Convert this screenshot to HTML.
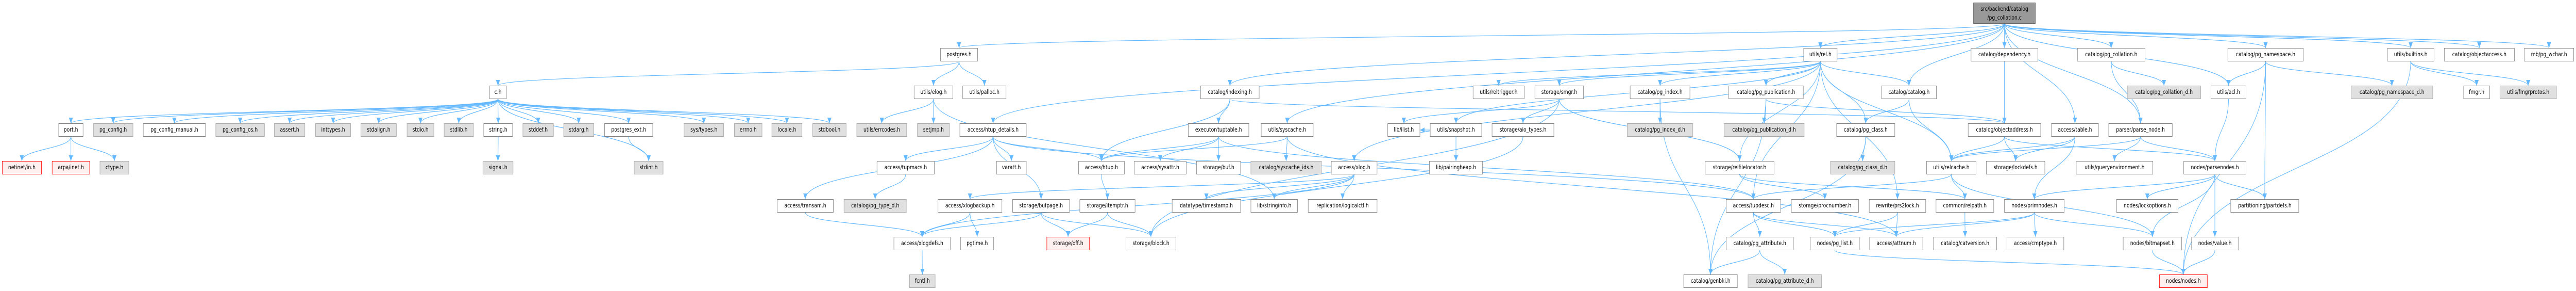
<!DOCTYPE html>
<html><head><meta charset="utf-8">
<style>
html,body{margin:0;padding:0;background:#fff;width:100%;height:100%;overflow:hidden;}
#w{width:6249px;height:564px;position:absolute;left:0;top:0;overflow:hidden;transform-origin:0 0;}
.n{position:absolute;box-sizing:border-box;height:26px;border:1.5px solid #808080;background:#fff;overflow:hidden;
font-family:"DejaVu Sans","Liberation Sans",sans-serif;font-size:11.5px;line-height:23px;text-align:center;color:#000;white-space:nowrap;z-index:2;}
.g{background:#e0e0e0;border-color:#a8a8a8;}
.r{background:#fff0f0;border-color:#ff0000;}
.A{top:93px}.B{top:166px}.C{top:239px}.D{top:312px}.E{top:386px}.F{top:459px}.G{top:532px}
svg{position:absolute;left:0;top:0;z-index:1;}
</style></head><body><div id="w">
<svg id="s" width="6249" height="564" xmlns="http://www.w3.org/2000/svg">
<defs><marker id="m" markerWidth="12" markerHeight="10" refX="11" refY="5" orient="auto" markerUnits="userSpaceOnUse"><path d="M0,0 L11,5 L0,10 z" fill="#63b8ff"/></marker></defs>
<g id="eg" fill="none" stroke="#63b8ff" stroke-width="1.2"></g>
</svg>

<div class="n" id="top" style="left:4787px;top:5px;width:151px;height:41px;line-height:17px;padding-top:3px;background:#999;border-color:#666">src/backend/catalog<br>/pg_collation.c</div>

<div class="n A" id="postgres" style="left:2281px;width:91px">postgres.h</div>
<div class="n A" id="rel" style="left:4375px;width:82px">utils/rel.h</div>
<div class="n A" id="dependency" style="left:4781px;width:163px">catalog/dependency.h</div>
<div class="n A" id="pgcoll" style="left:5039px;width:165px">catalog/pg_collation.h</div>
<div class="n A" id="pgns" style="left:5404px;width:184px">catalog/pg_namespace.h</div>
<div class="n A" id="builtins" style="left:5791px;width:114px">utils/builtins.h</div>
<div class="n A" id="objaccess" style="left:5929px;width:171px">catalog/objectaccess.h</div>
<div class="n A" id="wchar" style="left:6123px;width:121px">mb/pg_wchar.h</div>

<div class="n B" id="ch" style="left:1187px;width:42px">c.h</div>
<div class="n B" id="elog" style="left:2217px;width:95px">utils/elog.h</div>
<div class="n B" id="palloc" style="left:2335px;width:106px">utils/palloc.h</div>
<div class="n B" id="indexing" style="left:2912px;width:143px">catalog/indexing.h</div>
<div class="n B" id="reltrigger" style="left:3573px;width:125px">utils/reltrigger.h</div>
<div class="n B" id="smgr" style="left:3723px;width:119px">storage/smgr.h</div>
<div class="n B" id="pgindex" style="left:3954px;width:146px">catalog/pg_index.h</div>
<div class="n B" id="pgpub" style="left:4193px;width:182px">catalog/pg_publication.h</div>
<div class="n B" id="catalog" style="left:4564px;width:134px">catalog/catalog.h</div>
<div class="n B g" id="pgcolld" style="left:5160px;width:179px">catalog/pg_collation_d.h</div>
<div class="n B" id="acl" style="left:5363px;width:86px">utils/acl.h</div>
<div class="n B g" id="pgnsd" style="left:5703px;width:199px">catalog/pg_namespace_d.h</div>
<div class="n B" id="fmgr" style="left:5976px;width:64px">fmgr.h</div>
<div class="n B g" id="fmgrprotos" style="left:6064px;width:138px">utils/fmgrprotos.h</div>

<div class="n C" id="port" style="left:142px;width:60px">port.h</div>
<div class="n C g" id="pgconfig" style="left:226px;width:97px">pg_config.h</div>
<div class="n C" id="pgcm" style="left:347px;width:152px">pg_config_manual.h</div>
<div class="n C g" id="pgcos" style="left:523px;width:119px">pg_config_os.h</div>
<div class="n C g" id="assert" style="left:665px;width:75px">assert.h</div>
<div class="n C g" id="inttypes" style="left:765px;width:86px">inttypes.h</div>
<div class="n C g" id="stdalign" style="left:875px;width:87px">stdalign.h</div>
<div class="n C g" id="stdio" style="left:987px;width:66px">stdio.h</div>
<div class="n C g" id="stdlib" style="left:1077px;width:72px">stdlib.h</div>
<div class="n C" id="string" style="left:1173px;width:71px">string.h</div>
<div class="n C g" id="stddef" style="left:1268px;width:75px">stddef.h</div>
<div class="n C g" id="stdarg" style="left:1367px;width:74px">stdarg.h</div>
<div class="n C" id="pgext" style="left:1466px;width:118px">postgres_ext.h</div>
<div class="n C g" id="systypes" style="left:1659px;width:97px">sys/types.h</div>
<div class="n C g" id="errno" style="left:1781px;width:68px">errno.h</div>
<div class="n C g" id="locale" style="left:1872px;width:74px">locale.h</div>
<div class="n C g" id="stdbool" style="left:1971px;width:82px">stdbool.h</div>
<div class="n C g" id="errcodes" style="left:2078px;width:122px">utils/errcodes.h</div>
<div class="n C g" id="setjmp" style="left:2225px;width:79px">setjmp.h</div>
<div class="n C" id="htupd" style="left:2328px;width:162px">access/htup_details.h</div>
<div class="n C" id="tuptable" style="left:2882px;width:148px">executor/tuptable.h</div>
<div class="n C" id="syscache" style="left:3059px;width:127px">utils/syscache.h</div>
<div class="n C" id="ilist" style="left:3366px;width:79px">lib/ilist.h</div>
<div class="n C" id="snapshot" style="left:3469px;width:126px">utils/snapshot.h</div>
<div class="n C" id="aio" style="left:3619px;width:151px">storage/aio_types.h</div>
<div class="n C g" id="pgindexd" style="left:3947px;width:160px">catalog/pg_index_d.h</div>
<div class="n C g" id="pgpubd" style="left:4182px;width:195px">catalog/pg_publication_d.h</div>
<div class="n C" id="pgclass" style="left:4455px;width:142px">catalog/pg_class.h</div>
<div class="n C" id="objaddr" style="left:4774px;width:177px">catalog/objectaddress.h</div>
<div class="n C" id="table" style="left:4976px;width:115px">access/table.h</div>
<div class="n C" id="parsenode" style="left:5115px;width:155px">parser/parse_node.h</div>

<div class="n D r" id="netinet" style="left:5px;width:96px">netinet/in.h</div>
<div class="n D r" id="arpa" style="left:126px;width:92px">arpa/inet.h</div>
<div class="n D g" id="ctype" style="left:242px;width:71px">ctype.h</div>
<div class="n D g" id="signal" style="left:1171px;width:74px">signal.h</div>
<div class="n D g" id="stdint" style="left:1538px;width:71px">stdint.h</div>
<div class="n D" id="tupmacs" style="left:2127px;width:140px">access/tupmacs.h</div>
<div class="n D" id="varatt" style="left:2417px;width:73px">varatt.h</div>
<div class="n D" id="htup" style="left:2616px;width:112px">access/htup.h</div>
<div class="n D" id="sysattr" style="left:2751px;width:127px">access/sysattr.h</div>
<div class="n D" id="buf" style="left:2902px;width:108px">storage/buf.h</div>
<div class="n D g" id="syscacheids" style="left:3034px;width:172px">catalog/syscache_ids.h</div>
<div class="n D" id="xlog" style="left:3229px;width:112px">access/xlog.h</div>
<div class="n D" id="pairingheap" style="left:3467px;width:130px">lib/pairingheap.h</div>
<div class="n D" id="rfl" style="left:4136px;width:168px">storage/relfilelocator.h</div>
<div class="n D g" id="pgclassd" style="left:4440px;width:157px">catalog/pg_class_d.h</div>
<div class="n D" id="relcache" style="left:4673px;width:121px">utils/relcache.h</div>
<div class="n D" id="lockdefs" style="left:4818px;width:143px">storage/lockdefs.h</div>
<div class="n D" id="queryenv" style="left:5036px;width:187px">utils/queryenvironment.h</div>
<div class="n D" id="parsenodes" style="left:5297px;width:152px">nodes/parsenodes.h</div>

<div class="n E" id="transam" style="left:1885px;width:137px">access/transam.h</div>
<div class="n E g" id="pgtyped" style="left:2047px;width:152px">catalog/pg_type_d.h</div>
<div class="n E" id="xlogbackup" style="left:2275px;width:156px">access/xlogbackup.h</div>
<div class="n E" id="bufpage" style="left:2456px;width:139px">storage/bufpage.h</div>
<div class="n E" id="itemptr" style="left:2619px;width:135px">storage/itemptr.h</div>
<div class="n E" id="timestamp" style="left:2843px;width:167px">datatype/timestamp.h</div>
<div class="n E" id="stringinfo" style="left:3034px;width:114px">lib/stringinfo.h</div>
<div class="n E" id="logicalctl" style="left:3173px;width:168px">replication/logicalctl.h</div>
<div class="n E" id="tupdesc" style="left:4187px;width:133px">access/tupdesc.h</div>
<div class="n E" id="procnumber" style="left:4345px;width:164px">storage/procnumber.h</div>
<div class="n E" id="prs2lock" style="left:4534px;width:138px">rewrite/prs2lock.h</div>
<div class="n E" id="relpath" style="left:4696px;width:141px">common/relpath.h</div>
<div class="n E" id="primnodes" style="left:4862px;width:146px">nodes/primnodes.h</div>
<div class="n E" id="lockoptions" style="left:5134px;width:150px">nodes/lockoptions.h</div>
<div class="n E" id="partdefs" style="left:5411px;width:166px">partitioning/partdefs.h</div>

<div class="n F" id="xlogdefs" style="left:2168px;width:138px">access/xlogdefs.h</div>
<div class="n F" id="pgtime" style="left:2330px;width:81px">pgtime.h</div>
<div class="n F r" id="off" style="left:2539px;width:104px">storage/off.h</div>
<div class="n F" id="block" style="left:2731px;width:122px">storage/block.h</div>
<div class="n F" id="pgattr" style="left:4187px;width:164px">catalog/pg_attribute.h</div>
<div class="n F" id="pglist" style="left:4391px;width:120px">nodes/pg_list.h</div>
<div class="n F" id="attnum" style="left:4535px;width:130px">access/attnum.h</div>
<div class="n F" id="catversion" style="left:4690px;width:154px">catalog/catversion.h</div>
<div class="n F" id="cmptype" style="left:4868px;width:139px">access/cmptype.h</div>
<div class="n F" id="bitmapset" style="left:5150px;width:143px">nodes/bitmapset.h</div>
<div class="n F" id="value" style="left:5316px;width:114px">nodes/value.h</div>

<div class="n G g" id="fcntl" style="left:2206px;width:63px">fcntl.h</div>
<div class="n G" id="genbki" style="left:4084px;width:131px">catalog/genbki.h</div>
<div class="n G g" id="pgattrd" style="left:4240px;width:179px">catalog/pg_attribute_d.h</div>
<div class="n G r" id="nodes" style="left:5238px;width:117px">nodes/nodes.h</div>
</div>
<script>
var E={
top:"rel dependency pgcoll pgns builtins objaccess wchar postgres indexing catalog table syscache htupd acl parsenode",
postgres:"ch elog palloc",
ch:"port pgconfig pgcm pgcos assert inttypes stdalign stdio stdlib string stddef stdarg pgext systypes errno locale stdbool stdint",
port:"netinet arpa ctype",string:"signal",pgext:"stdint",
elog:"errcodes setjmp stringinfo",
htupd:"tupmacs varatt htup bufpage tupdesc transam",
tupmacs:"pgtyped",transam:"xlogdefs",htup:"itemptr",
indexing:"tuptable htup objaddr",
tuptable:"htup sysattr buf tupdesc",
syscache:"syscacheids htup attnum",
xlogbackup:"xlogdefs pgtime",
bufpage:"xlogdefs off block",itemptr:"off block",xlogdefs:"fcntl",
xlog:"xlogdefs logicalctl stringinfo timestamp xlogbackup",
smgr:"ilist aio rfl block",snapshot:"pairingheap ilist",
pgindex:"pgindexd genbki",pgpub:"pgpubd objaddr genbki",
rel:"pgpub catalog pgclass relcache prs2lock rfl smgr reltrigger pgindex xlog snapshot tupdesc",
catalog:"pgclass relcache",pgclass:"pgclassd genbki",
objaddr:"relcache lockdefs parsenodes",table:"relcache lockdefs primnodes",
parsenode:"queryenv parsenodes relcache",
relcache:"relpath tupdesc bitmapset",rfl:"procnumber relpath",
tupdesc:"pgattr pglist attnum",prs2lock:"attnum pglist",relpath:"catversion",
primnodes:"attnum pglist cmptype bitmapset",pgattr:"genbki pgattrd",pglist:"nodes",
pgcoll:"pgcolld parsenode",pgns:"acl pgnsd nodes partdefs",acl:"parsenodes",
parsenodes:"lockoptions partdefs value bitmapset primnodes",value:"nodes",bitmapset:"nodes",
builtins:"fmgr fmgrprotos nodes",dependency:"objaddr",aio:"block"
};
function b(id){var e=document.getElementById(id);return {x:e.offsetLeft,y:e.offsetTop,w:e.offsetWidth,h:e.offsetHeight};}
var g=document.getElementById("eg"),ns="http://www.w3.org/2000/svg";
for(var s in E){var a=b(s);E[s].split(" ").forEach(function(t){var c=b(t);
var sx=a.x+a.w/2,sy=a.y+a.h,tx=c.x+c.w/2,ty=c.y,d;
if(c.y<=a.y+2){
 if(c.x>a.x){sx=a.x+a.w;tx=c.x;}else{sx=a.x;tx=c.x+c.w;}
 sy=a.y+a.h/2;ty=c.y+c.h/2;
 d="M"+sx+","+sy+" C"+((sx+tx)/2)+","+sy+" "+((sx+tx)/2)+","+ty+" "+tx+","+ty;
}else{var my=(sy+ty)/2;
 d="M"+sx+","+sy+" C"+sx+","+my+" "+tx+","+my+" "+tx+","+ty;}
var p=document.createElementNS(ns,"path");p.setAttribute("d",d);p.setAttribute("marker-end","url(#m)");g.appendChild(p);});}
function fit(){var w=document.documentElement.clientWidth||window.innerWidth,h=document.documentElement.clientHeight||window.innerHeight;
var sx=w/6249,sy=h/564;if(!(sx>0))sx=1;if(!(sy>0))sy=1;
document.getElementById("w").style.transform="scale("+sx+","+sy+")";}
fit();window.addEventListener("resize",fit);
</script>
</body></html>
